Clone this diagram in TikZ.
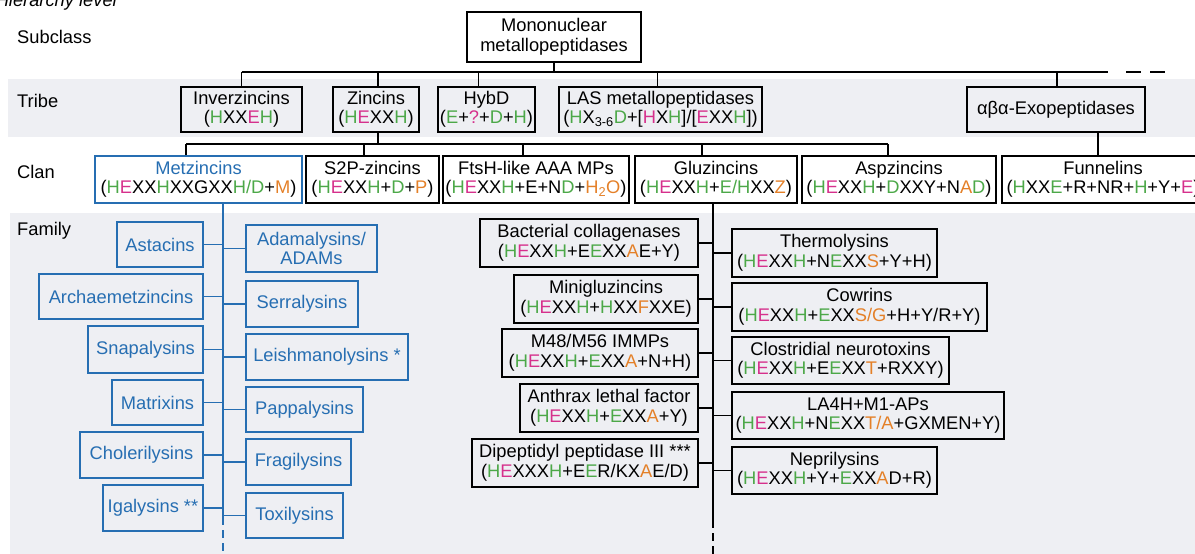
\documentclass[tikz,border=0pt]{standalone}
\usepackage{fontspec}
\setmainfont{Liberation Sans}
\usetikzlibrary{calc}
\definecolor{cgreen}{RGB}{76,168,72}
\definecolor{cmag}{RGB}{214,48,140}
\definecolor{corange}{RGB}{228,128,40}
\definecolor{cblue}{RGB}{38,110,178}
\definecolor{cband}{RGB}{238,239,243}
\newcommand\hg[1]{\textcolor{cgreen}{#1}}
\newcommand\hm[1]{\textcolor{cmag}{#1}}
\newcommand\ho[1]{\textcolor{corange}{#1}}
\newcommand\hexh{(\hg{H}\hm{E}XX\hg{H}}
\begin{document}
\begin{tikzpicture}[x=1pt,y=-1pt,
  font=\fontsize{18.3}{19.5}\selectfont,
  bx/.style={draw, line width=1.8pt, inner sep=0pt, align=center},
  bbx/.style={bx, draw=cblue, text=cblue},
  ln/.style={line width=1.5pt},
  bln/.style={line width=1.6pt, draw=cblue},
  lbl/.style={anchor=west, inner sep=0pt}]
\useasboundingbox (0,0) rectangle (1195,554);
\clip (0,0) rectangle (1195,554);
\fill[cband] (8,79) rectangle (1195,137);
\fill[cband] (10,213) rectangle (1195,554);

% cut-off heading
\node[anchor=base east, inner sep=0pt, font=\itshape\fontsize{18.3}{19.5}\selectfont] (hl) at (117,6) {Hierarchy level};

% row labels
\node[lbl] (lsub) at (17,37) {Subclass};
\node[lbl] (ltri) at (17,101) {Tribe};
\node[lbl] (lcla) at (17,172) {Clan};
\node[lbl] (lfam) at (17,231) {Family};

% subclass
\node[bx, minimum width=174pt, minimum height=50pt] (sub) at (554,37) {Mononuclear\\metallopeptidases};

% tribes
\node[bx, minimum width=121pt, minimum height=45pt] (inv) at (241.5,109.5) {Inverzincins\\(\hg{H}XX\hm{E}\hg{H})};
\node[bx, minimum width=86pt, minimum height=45pt] (zin) at (376,109.5) {Zincins\\\hexh)};
\node[bx, minimum width=97pt, minimum height=45pt] (hyb) at (486.5,109.5) {HybD\\(\hg{E}+\hm{?}+\hg{D}+\hg{H})};
\node[bx, minimum width=203pt, minimum height=45pt] (las) at (660.5,109.5) {LAS metallopeptidases\\(\hg{H}X\textsubscript{3-6}\hg{D}+[\hm{H}X\hg{H}]/[\hm{E}XX\hg{H}])};
\node[bx, minimum width=178pt, minimum height=45pt] (abe) at (1056,109.5) {αβα-Exopeptidases};

% clans
\node[bbx, minimum width=207pt, minimum height=47pt] (met) at (198.5,179.5) {Metzincins\\{\color{black}\hexh XXGXX\hg{H/D}+\ho{M})}};
\node[bx, minimum width=133pt, minimum height=47pt] (s2p) at (372.5,179.5) {S2P-zincins\\\hexh+\hg{D}+\ho{P})};
\node[bx, minimum width=186pt, minimum height=47pt] (fts) at (536,179.5) {FtsH-like AAA MPs\\\hexh+E+N\hg{D}+\ho{H\textsubscript{2}O})};
\node[bx, minimum width=162pt, minimum height=47pt] (glu) at (716,179.5) {Gluzincins\\\hexh+\hg{E/H}XX\ho{Z})};
\node[bx, minimum width=194pt, minimum height=47pt] (asp) at (899,179.5) {Aspzincins\\\hexh+\hg{D}XXY+N\ho{A}\hg{D})};
\node[bx, minimum width=202pt, minimum height=47pt] (fun) at (1103,179.5) {Funnelins\\(\hg{H}XX\hg{E}+R+NR+\hg{H}+Y+\hm{E})};

% tribe connectors
\coordinate (tl) at (241.5,72);
\coordinate (tr) at (1108,72);
\coordinate (td1) at (1126,72);
\coordinate (td2) at (1166,72);
\draw[ln] (tl) -- (tr);
\draw[ln, dash pattern=on 15pt off 9pt] (td1) -- (td2);
\draw[ln] (sub.south) -- (sub.south |- tl);
\draw[ln] (inv.north) -- (inv.north |- tl);
\draw[ln] ([xshift=2pt]zin.north) -- ([xshift=2pt]zin.north |- tl);
\draw[ln] ([xshift=-8pt]hyb.north) -- ([xshift=-8pt]hyb.north |- tl);
\draw[ln] ([xshift=-3pt]las.north) -- ([xshift=-3pt]las.north |- tl);
\draw[ln] ([xshift=1pt]abe.north) -- ([xshift=1pt]abe.north |- tl);

% clan connectors
\coordinate (cl) at (186,144);
\coordinate (cr) at (888,144);
\draw[ln] (cl) -- (cr);
\draw[ln] ([xshift=2pt]zin.south) -- ([xshift=2pt]zin.south |- cl);
\draw[ln] ([xshift=-12.5pt]met.north) -- ([xshift=-12.5pt]met.north |- cl);
\draw[ln] ([xshift=-8.5pt]s2p.north) -- ([xshift=-8.5pt]s2p.north |- cl);
\draw[ln] ([xshift=-13pt]fts.north) -- ([xshift=-13pt]fts.north |- cl);
\draw[ln] ([xshift=-14pt]glu.north) -- ([xshift=-14pt]glu.north |- cl);
\draw[ln] ([xshift=-11pt]asp.north) -- ([xshift=-11pt]asp.north |- cl);
\draw[ln] ([xshift=42pt]abe.south) -- ([xshift=42pt]abe.south |- fun.north);

% metzincin families
\node[bbx, minimum width=86pt, minimum height=45pt] (ast) at (160,244.5) {Astacins};
\node[bbx, minimum width=164pt, minimum height=45pt] (arc) at (121,296.5) {Archaemetzincins};
\node[bbx, minimum width=115pt, minimum height=47pt] (sna) at (145.5,349.5) {Snapalysins};
\node[bbx, minimum width=91pt, minimum height=45pt] (mat) at (157.5,402.5) {Matrixins};
\node[bbx, minimum width=123pt, minimum height=46pt] (cho) at (141.5,455) {Cholerilysins};
\node[bbx, minimum width=100pt, minimum height=46pt] (iga) at (153,508) {Igalysins **};
\node[bbx, minimum width=131pt, minimum height=47pt] (ada) at (311.5,248.5) {Adamalysins/\\ADAMs};
\node[bbx, minimum width=112pt, minimum height=46pt] (ser) at (302,304) {Serralysins};
\node[bbx, minimum width=162pt, minimum height=46pt] (lei) at (327,357) {Leishmanolysins *};
\node[bbx, minimum width=117pt, minimum height=45pt] (pap) at (304.5,409.5) {Pappalysins};
\node[bbx, minimum width=105pt, minimum height=46pt] (fra) at (298.5,462) {Fragilysins};
\node[bbx, minimum width=97pt, minimum height=45pt] (tox) at (294.5,515.5) {Toxilysins};

\coordinate (ms) at (223,525);
\coordinate (ms2) at (223,530);
\coordinate (me) at (223,554);
\draw[bln] (met.south -| ms) -- (ms);
\draw[bln, dash pattern=on 8pt off 5pt] (ms2) -- (me);
\foreach \n in {ast,arc,sna,mat,cho,iga}{\draw[bln] (\n.east) -- (\n.east -| ms);}
\foreach \n in {ada,ser,lei,pap,fra,tox}{\draw[bln] (ms |- \n.west) -- (\n.west);}

% gluzincin families
\node[bx, minimum width=218pt, minimum height=48pt] (bac) at (589,243) {Bacterial collagenases\\\hexh+E\hg{E}XX\ho{A}E+Y)};
\node[bx, minimum width=184pt, minimum height=48pt] (mng) at (606,299) {Minigluzincins\\\hexh+\hg{H}XX\ho{F}XXE)};
\node[bx, minimum width=196pt, minimum height=48pt] (imm) at (600,353) {M48/M56 IMMPs\\\hexh+\hg{E}XX\ho{A}+N+H)};
\node[bx, minimum width=178pt, minimum height=48pt] (ant) at (609,408) {Anthrax lethal factor\\\hexh+\hg{E}XX\ho{A}+Y)};
\node[bx, minimum width=226pt, minimum height=48pt] (dpp) at (585,463) {Dipeptidyl peptidase III ***\\(\hg{H}\hm{E}XXX\hg{H}+E\hg{E}R/KX\ho{A}E/D)};
\node[bx, minimum width=205pt, minimum height=48pt] (the) at (834.5,253) {Thermolysins\\\hexh+N\hg{E}XX\ho{S}+Y+H)};
\node[bx, minimum width=255pt, minimum height=48pt] (cow) at (859.5,307) {Cowrins\\\hexh+\hg{E}XX\ho{S/G}+H+Y/R+Y)};
\node[bx, minimum width=217pt, minimum height=47pt] (clo) at (840.5,360.5) {Clostridial neurotoxins\\\hexh+E\hg{E}XX\ho{T}+RXXY)};
\node[bx, minimum width=272pt, minimum height=47pt] (la4) at (868,415.5) {LA4H+M1-APs\\\hexh+N\hg{E}XX\ho{T/A}+GXMEN+Y)};
\node[bx, minimum width=205pt, minimum height=47pt] (nep) at (834.5,470.5) {Neprilysins\\\hexh+Y+\hg{E}XX\ho{A}D+R)};

\coordinate (gs) at (713,528);
\coordinate (gs2) at (713,533);
\coordinate (ge) at (713,554);
\draw[ln] (glu.south -| gs) -- (gs);
\draw[ln, dash pattern=on 8pt off 5pt] (gs2) -- (ge);
\foreach \n in {bac,mng,imm,ant,dpp}{\draw[ln] (\n.east) -- (\n.east -| gs);}
\foreach \n in {the,cow,clo,la4,nep}{\draw[ln] (gs |- \n.west) -- (\n.west);}
\end{tikzpicture}
\end{document}
